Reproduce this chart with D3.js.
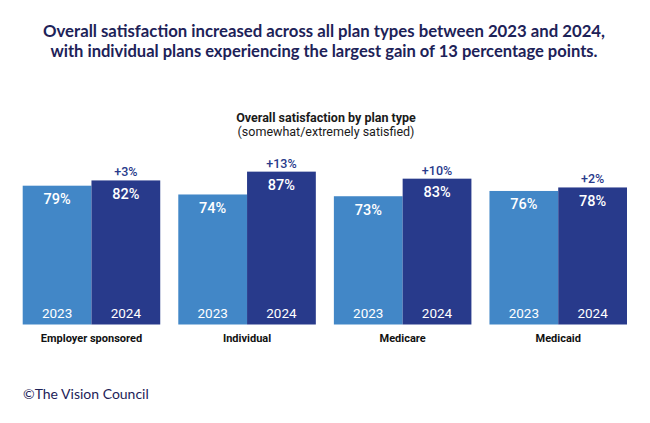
<!DOCTYPE html>
<html lang="en">
<head>
    <meta charset="UTF-8">
    <title>Overall satisfaction by plan type</title>
    <style>
        body { margin: 0; background: #fff; }
        svg { display: block; }
    </style>
</head>
<body>
    <div id="chart-wrapper"></div>

    <script src="https://d3js.org/d3.v7.min.js"></script>
    <script>
        const planTypes = ['Employer sponsored', 'Individual', 'Medicare', 'Medicaid']
        const years = ['2023', '2024']
        const values2023 = [79, 74, 73, 76]
        const values2024 = [82, 87, 83, 78]
        const changeLabels = ['+3%', '+13%', '+10%', '+2%']

        const titleLines = [
            'Overall satisfaction increased across all plan types between 2023 and 2024,',
            'with individual plans experiencing the largest gain of 13 percentage points.'
        ]
        const subtitleLines = ['Overall satisfaction by plan type', '(somewhat/extremely satisfied)']
        const footer = '\u00A9The Vision Council'

        const width = 650
        const height = 423
        const navy = '#1d2258'
        const colors = { '2023': '#4287c7', '2024': '#283a8b' }

        const rows = planTypes.map((p, i) => ({
            plan: p,
            change: changeLabels[i],
            bars: [
                { year: years[0], value: values2023[i] },
                { year: years[1], value: values2024[i] }
            ]
        }))

        const svg = d3.select('#chart-wrapper')
            .append('svg')
            .attr('width', width)
            .attr('height', height)

        // title, fitted to the width it takes in the original
        const titleWidths = [562, 547]
        svg.selectAll('.title')
            .data(titleLines)
            .enter()
            .append('text')
            .attr('class', 'title')
            .attr('x', width / 2 - 1)
            .attr('y', (_, i) => 36.5 + i * 20.5)
            .attr('text-anchor', 'middle')
            .attr('font-family', 'Lato, sans-serif')
            .attr('font-weight', 700)
            .attr('font-size', 17)
            .attr('fill', navy)
            .attr('textLength', (_, i) => titleWidths[i])
            .attr('lengthAdjust', 'spacingAndGlyphs')
            .text(d => d)

        svg.selectAll('.subtitle')
            .data(subtitleLines)
            .enter()
            .append('text')
            .attr('class', 'subtitle')
            .attr('x', width / 2 + 1)
            .attr('y', (_, i) => 121.5 + i * 14.5)
            .attr('text-anchor', 'middle')
            .attr('font-family', 'Roboto, sans-serif')
            .attr('font-weight', (_, i) => i === 0 ? 700 : 400)
            .attr('font-size', 12.5)
            .attr('fill', '#1a1a1a')
            .text(d => d)

        const x0 = d3.scaleBand()
            .domain(planTypes)
            .range([22.7, 627])
            .paddingInner(0.116)
            .paddingOuter(0)

        const x1 = d3.scaleBand()
            .domain(years)
            .range([0, x0.bandwidth()])

        const y = d3.scaleLinear()
            .domain([0, 100])
            .range([324.5, 148.8])

        const groups = svg.selectAll('.group')
            .data(rows)
            .enter()
            .append('g')
            .attr('class', 'group')
            .attr('transform', d => `translate(${x0(d.plan)},0)`)

        groups.selectAll('rect')
            .data(d => d.bars)
            .enter()
            .append('rect')
            .attr('x', d => x1(d.year))
            .attr('y', d => y(d.value))
            .attr('width', x1.bandwidth())
            .attr('height', d => y(0) - y(d.value))
            .attr('fill', d => colors[d.year])

        groups.selectAll('.value')
            .data(d => d.bars)
            .enter()
            .append('text')
            .attr('class', 'value')
            .attr('x', d => x1(d.year) + x1.bandwidth() / 2)
            .attr('y', d => y(d.value) + 18.5)
            .attr('text-anchor', 'middle')
            .attr('font-family', 'Roboto, sans-serif')
            .attr('font-weight', 500)
            .attr('font-size', 14.5)
            .attr('fill', '#fff')
            .text(d => d.value + '%')

        groups.selectAll('.year')
            .data(d => d.bars)
            .enter()
            .append('text')
            .attr('class', 'year')
            .attr('x', d => x1(d.year) + x1.bandwidth() / 2)
            .attr('y', y(0) - 6.5)
            .attr('text-anchor', 'middle')
            .attr('font-family', 'Roboto, sans-serif')
            .attr('font-weight', 400)
            .attr('font-size', 13.5)
            .attr('fill', '#fff')
            .text(d => d.year)

        groups.append('text')
            .attr('class', 'change')
            .attr('x', x1('2024') + x1.bandwidth() / 2)
            .attr('y', d => y(d.bars[1].value) - 4)
            .attr('text-anchor', 'middle')
            .attr('font-family', 'Roboto, sans-serif')
            .attr('font-weight', 500)
            .attr('font-size', 12.5)
            .attr('fill', colors['2024'])
            .text(d => d.change)

        groups.append('text')
            .attr('class', 'plan')
            .attr('x', x0.bandwidth() / 2)
            .attr('y', 341.5)
            .attr('text-anchor', 'middle')
            .attr('font-family', 'Roboto, sans-serif')
            .attr('font-weight', 700)
            .attr('font-size', 11)
            .attr('fill', '#111')
            .text(d => d.plan)

        svg.append('text')
            .attr('x', 23)
            .attr('y', 398.5)
            .attr('font-family', 'Lato, sans-serif')
            .attr('font-weight', 400)
            .attr('font-size', 14)
            .attr('fill', navy)
            .text(footer)
    </script>
</body>
</html>
